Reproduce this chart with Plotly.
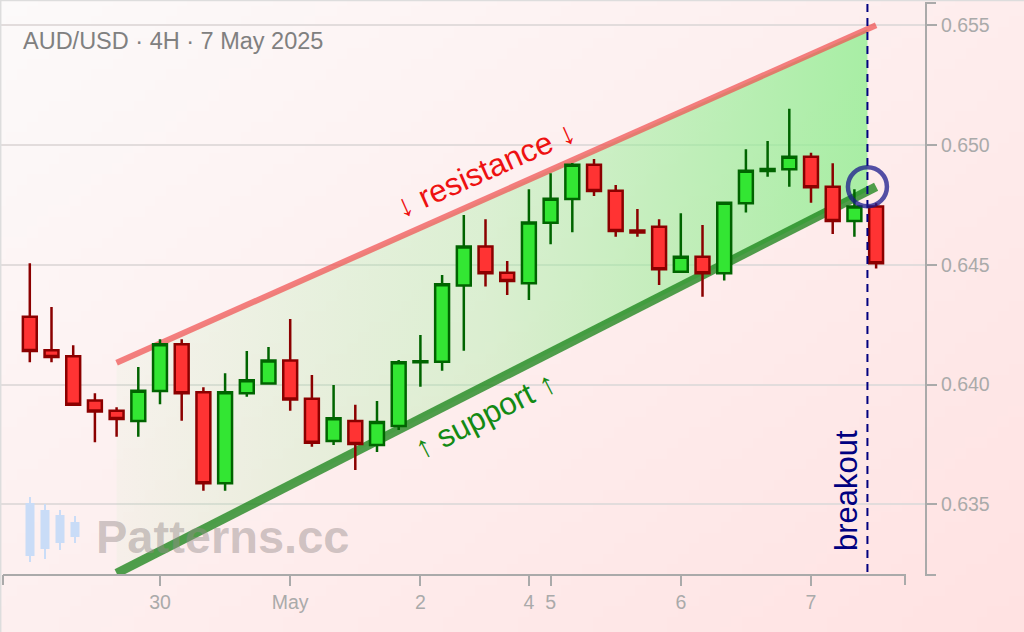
import base64
import struct
import zlib

import numpy as np
import plotly.graph_objects as go

# ---------------- data ----------------
opens = [0.64283, 0.64143, 0.64118, 0.63933, 0.63891, 0.63848, 0.63973, 0.64168,
         0.63968, 0.63588, 0.63964, 0.64005, 0.64101, 0.63941, 0.63764, 0.63848,
         0.63748, 0.63827, 0.64093, 0.64095, 0.64414, 0.64576, 0.64467, 0.64423,
         0.64676, 0.64775, 0.64918, 0.64809, 0.64643, 0.64659, 0.64471, 0.64534,
         0.64465, 0.64757, 0.64892, 0.64899, 0.64951, 0.64826, 0.64683, 0.64743]
highs = [0.64506, 0.64324, 0.64164, 0.63964, 0.63905, 0.64073, 0.64189, 0.64189,
         0.63989, 0.64047, 0.64140, 0.64157, 0.64274, 0.64040, 0.63998, 0.63916,
         0.63931, 0.64103, 0.64207, 0.64457, 0.64708, 0.64690, 0.64516, 0.64815,
         0.64882, 0.64925, 0.64942, 0.64833, 0.64733, 0.64690, 0.64715, 0.64666,
         0.64762, 0.64982, 0.65017, 0.65151, 0.64968, 0.64924, 0.64815, 0.64757]
lows = [0.64093, 0.64093, 0.63914, 0.63759, 0.63782, 0.63782, 0.63918, 0.63849,
        0.63557, 0.63557, 0.63949, 0.64001, 0.63891, 0.63740, 0.63748, 0.63643,
        0.63718, 0.63810, 0.63991, 0.64058, 0.64141, 0.64409, 0.64374, 0.64353,
        0.64586, 0.64636, 0.64787, 0.64617, 0.64617, 0.64416, 0.64467, 0.64367,
        0.64434, 0.64718, 0.64868, 0.64826, 0.64759, 0.64629, 0.64617, 0.64485]
closes = [0.64140, 0.64115, 0.63916, 0.63888, 0.63856, 0.63974, 0.64168, 0.63964,
          0.63588, 0.63968, 0.64018, 0.64101, 0.63938, 0.63757, 0.63859, 0.63752,
          0.63844, 0.64093, 0.64097, 0.64419, 0.64576, 0.64465, 0.64432, 0.64677,
          0.64776, 0.64918, 0.64808, 0.64641, 0.64635, 0.64481, 0.64534, 0.64465,
          0.64759, 0.64893, 0.64900, 0.64951, 0.64824, 0.64683, 0.64743, 0.64506]

# x-axis tick labels (placed at candle index)
tick_idx = [6, 12, 18, 23, 24, 30, 36]
tick_text = ["30", "May", "2", "4", "5", "6", "7"]

# y-axis ticks
y_ticks = [0.635, 0.640, 0.645, 0.650, 0.655]

# channel lines (candle index, price)
res_x = [4, 39]
res_y = [0.64091, 0.65500]
sup_x = [4, 39]
sup_y = [0.63212, 0.64826]

breakout_x = 38.6
breakout_y = 0.64826

title_text = "AUD/USD · 4H · 7 May 2025"

# ---------------- background gradient image ----------------
def make_png(w, h, fn):
    rows = []
    for j in range(h):
        row = bytearray([0])
        for i in range(w):
            row += bytes(fn(i / (w - 1), j / (h - 1)))
        rows.append(bytes(row))
    raw = b"".join(rows)

    def chunk(tag, data):
        c = struct.pack(">I", len(data)) + tag + data
        return c + struct.pack(">I", zlib.crc32(tag + data) & 0xFFFFFFFF)

    png = (b"\x89PNG\r\n\x1a\n"
           + chunk(b"IHDR", struct.pack(">IIBBBBB", w, h, 8, 2, 0, 0, 0))
           + chunk(b"IDAT", zlib.compress(raw, 9))
           + chunk(b"IEND", b""))
    return "data:image/png;base64," + base64.b64encode(png).decode()


c0 = (252, 250, 250)
c1 = (255, 226, 226)


def bg(u, v):
    t = min(1.0, max(0.0, 0.55 * u + 0.45 * v))
    return [int(round(a + (b - a) * t)) for a, b in zip(c0, c1)]


bg_uri = make_png(96, 60, bg)

# ---------------- geometry helpers (pixel layout) ----------------
W, H = 1024, 632
PL, PR, PT, PB = 0, 925, 3, 575  # plot area in pixels
pw, ph = PR - PL, PB - PT


def px(xp):
    return (xp - PL) / pw


def py(yp):
    return (PB - yp) / ph


x_range = [-1.3733, 41.253]
y_range = [0.63205, 0.65593]

idx = list(range(len(opens)))

fig = go.Figure()

# channel fill (gradient)
fx = [sup_x[0], breakout_x, breakout_x, res_x[0]]
fy = [sup_y[0], float(np.interp(breakout_x, sup_x, sup_y)),
      float(np.interp(breakout_x, res_x, res_y)), res_y[0]]
fig.add_trace(go.Scatter(
    x=fx, y=fy, mode="none", fill="toself",
    fillgradient=dict(type="horizontal",
                      colorscale=[[0, "rgba(144,238,144,0.06)"],
                                  [0.5, "rgba(144,238,144,0.32)"],
                                  [1, "rgba(144,238,144,0.78)"]]),
    hoverinfo="skip", showlegend=False))

# resistance & support lines
fig.add_trace(go.Scatter(x=res_x, y=res_y, mode="lines",
                         line=dict(color="rgba(240,80,80,0.72)", width=6),
                         hoverinfo="skip", showlegend=False))
fig.add_trace(go.Scatter(x=sup_x, y=sup_y, mode="lines",
                         line=dict(color="rgba(20,130,20,0.75)", width=9),
                         hoverinfo="skip", showlegend=False))

# candles (on an overlaying subplot so they sit above the channel fill)
fig.add_trace(go.Candlestick(
    x=idx, open=opens, high=highs, low=lows, close=closes,
    xaxis="x2", yaxis="y2",
    increasing=dict(line=dict(color="#006400", width=2.5), fillcolor="#33e633"),
    decreasing=dict(line=dict(color="#8b0000", width=2.5), fillcolor="#ff3333"),
    whiskerwidth=0, showlegend=False, hoverinfo="skip"))

shapes = []
# breakout dashed line
shapes.append(dict(type="line", xref="x", yref="paper", x0=breakout_x, x1=breakout_x,
                   y0=py(572), y1=py(0), line=dict(color="#000080", width=2, dash="8px,6px")))
# circle
shapes.append(dict(type="circle", xref="x", yref="y", xsizemode="pixel", ysizemode="pixel",
                   xanchor=breakout_x, yanchor=breakout_y, x0=-19.5, x1=19.5, y0=-19.5, y1=19.5,
                   line=dict(color="rgba(25,25,140,0.75)", width=4.5)))
axis_col = "#aaaaaa"
# x-axis line with end ticks
shapes.append(dict(type="line", xref="paper", yref="paper", x0=px(3), x1=px(906),
                   y0=py(575), y1=py(575), line=dict(color=axis_col, width=2)))
for xe in (3, 905):
    shapes.append(dict(type="line", xref="paper", yref="paper", x0=px(xe), x1=px(xe),
                       y0=py(575), y1=py(585), line=dict(color=axis_col, width=2)))
# y-axis end ticks
for ye in (3, 575):
    shapes.append(dict(type="line", xref="paper", yref="paper", x0=px(925), x1=px(936),
                       y0=py(ye), y1=py(ye), line=dict(color=axis_col, width=2)))
# faint frame top / left
shapes.append(dict(type="line", xref="paper", yref="paper", x0=px(0), x1=px(W),
                   y0=py(0.5), y1=py(0.5), line=dict(color="#dddddd", width=1.5)))
shapes.append(dict(type="line", xref="paper", yref="paper", x0=px(0.7), x1=px(0.7),
                   y0=py(0), y1=py(H), line=dict(color="#dddddd", width=1.5)))
# watermark logo candles
logo = [(30, 497, 562, 503, 556), (45, 504, 559, 510, 549),
        (60, 510, 550, 515, 543), (75, 516, 543, 522, 537)]
for cx, wt, wb, bt, bb in logo:
    shapes.append(dict(type="line", xref="paper", yref="paper", x0=px(cx), x1=px(cx),
                       y0=py(wt), y1=py(wb), line=dict(color="#c9dcf7", width=2)))
    shapes.append(dict(type="rect", xref="paper", yref="paper", x0=px(cx - 4.5), x1=px(cx + 4.5),
                       y0=py(bt), y1=py(bb), line=dict(width=0), fillcolor="#c9dcf7"))

font_family = "Liberation Sans, Arial, sans-serif"
annotations = [
    dict(text=title_text, xref="paper", yref="paper", x=px(21), y=py(41),
         xanchor="left", yanchor="middle", showarrow=False,
         font=dict(family=font_family, size=23.5, color="#808080")),
    dict(text="↓ resistance ↓", xref="paper", yref="paper", x=px(486), y=py(169),
         xanchor="center", yanchor="middle", showarrow=False, textangle=-24,
         font=dict(family=font_family, size=31.5, color="#ee1111")),
    dict(text="↑ support ↑", xref="paper", yref="paper", x=px(485), y=py(415),
         xanchor="center", yanchor="middle", showarrow=False, textangle=-27,
         font=dict(family=font_family, size=31.5, color="#138a13")),
    dict(text="breakout", xref="paper", yref="paper", x=px(846), y=py(491),
         xanchor="center", yanchor="middle", showarrow=False, textangle=-90,
         font=dict(family=font_family, size=31, color="#000080")),
    dict(text="<b>Patterns.cc</b>", xref="paper", yref="paper", x=px(222), y=py(536),
         xanchor="center", yanchor="middle", showarrow=False,
         font=dict(family=font_family, size=47, color="rgba(150,140,140,0.45)")),
]

fig.update_layout(
    width=W, height=H,
    margin=dict(l=PL, r=W - PR, t=PT, b=H - PB),
    paper_bgcolor="#fdf0f0",
    plot_bgcolor="rgba(0,0,0,0)",
    showlegend=False,
    boxgap=0.36, boxgroupgap=0,
    hovermode=False,
    shapes=shapes,
    annotations=annotations,
    images=[dict(source=bg_uri, xref="paper", yref="paper", x=px(0), y=py(0),
                 sizex=W / pw, sizey=H / ph, sizing="stretch",
                 xanchor="left", yanchor="top", layer="below")],
    xaxis=dict(range=x_range, rangeslider=dict(visible=False), showgrid=False,
               zeroline=False, showline=False, tickmode="array", tickvals=tick_idx,
               ticktext=tick_text, ticks="outside", ticklen=10, tickwidth=2,
               tickcolor=axis_col, tickfont=dict(family=font_family, size=19.5, color=axis_col),
               fixedrange=True),
    yaxis=dict(range=y_range, side="right", showgrid=True, gridcolor="#e2dcdc", gridwidth=1.5,
               zeroline=False, showline=True, linecolor=axis_col, linewidth=2,
               tickmode="array", tickvals=y_ticks, ticktext=[f"{v:.3f}" for v in y_ticks],
               ticks="outside", ticklen=10, tickwidth=2, tickcolor=axis_col,
               tickfont=dict(family=font_family, size=19.5, color=axis_col),
               fixedrange=True),
    xaxis2=dict(range=x_range, overlaying="x", visible=False, fixedrange=True,
                rangeslider=dict(visible=False)),
    yaxis2=dict(range=y_range, overlaying="y", visible=False, fixedrange=True),
)

fig.write_html("out.html", config={"displayModeBar": False},
               post_script="document.body.style.margin='0px';")
